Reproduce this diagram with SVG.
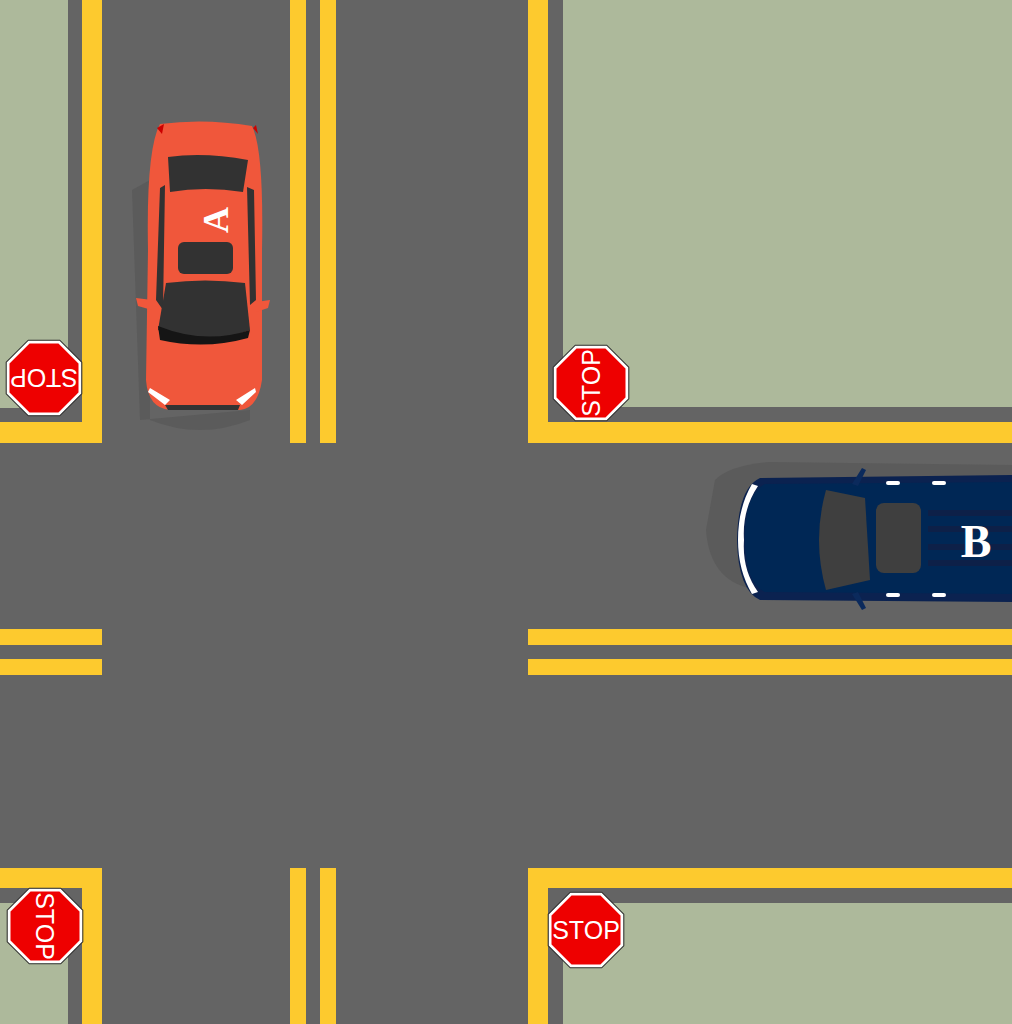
<svg xmlns="http://www.w3.org/2000/svg" width="1012" height="1024" viewBox="0 0 1012 1024">
<defs>
<style>
.y{fill:#fdca2e}.g{fill:#adb99b}.oct{fill:#ee0000;stroke:#fff;stroke-width:3}.st{font-family:"Liberation Sans",Arial,sans-serif;font-size:25px;fill:#fff;text-anchor:middle}
.lbl{font-family:"Liberation Serif","Times New Roman",serif;font-weight:bold;fill:#fff;text-anchor:middle}
</style>
<g id="stopsign"><polygon class="oct" points="-15,-36 15,-36 36,-15 36,15 15,36 -15,36 -36,15 -36,-15"/><polygon points="-15,-36 15,-36 36,-15 36,15 15,36 -15,36 -36,15 -36,-15" fill="none" stroke="#333" stroke-width="1" transform="scale(1.05)"/><text class="st" y="9">STOP</text></g>
</defs>
<rect width="1012" height="1024" fill="#646464"/>
<g id="corners">
<rect class="g" x="0" y="0" width="68" height="408"/>
<rect class="g" x="563" y="0" width="449" height="407"/>
<rect class="g" x="0" y="903" width="68" height="121"/>
<rect class="g" x="563" y="903" width="449" height="121"/>
<rect class="y" x="82" y="0" width="20" height="443"/><rect class="y" x="0" y="422" width="102" height="21"/>
<rect class="y" x="528" y="0" width="20" height="443"/><rect class="y" x="528" y="422" width="484" height="21"/>
<rect class="y" x="82" y="868" width="20" height="156"/><rect class="y" x="0" y="868" width="102" height="20"/>
<rect class="y" x="528" y="868" width="20" height="156"/><rect class="y" x="528" y="868" width="484" height="20"/>
<rect class="y" x="290" y="0" width="16" height="443"/><rect class="y" x="320" y="0" width="16" height="443"/>
<rect class="y" x="290" y="868" width="16" height="156"/><rect class="y" x="320" y="868" width="16" height="156"/>
<rect class="y" x="0" y="629" width="102" height="16"/><rect class="y" x="0" y="659" width="102" height="16"/>
<rect class="y" x="528" y="629" width="484" height="16"/><rect class="y" x="528" y="659" width="484" height="16"/>
</g>
<g id="stop1"><use href="#stopsign" transform="translate(44,378) rotate(180)"/></g>
<g id="stop2"><use href="#stopsign" transform="translate(591,383) rotate(-90)"/></g>
<g id="stop3"><use href="#stopsign" transform="translate(45,926) rotate(90)"/></g>
<g id="stop4"><use href="#stopsign" transform="translate(586,930)"/></g>
<g id="carA">
<path d="M132,190 L150,180 L150,420 Q200,440 250,420 L250,410 L140,420 Z" fill="#555" opacity="0.6"/>
<path d="M160,124 Q205,118 252,126 Q264,150 262,250 L262,380 Q258,408 240,410 L170,410 Q148,408 146,380 L148,250 Q146,150 160,124 Z" fill="#f0573b"/>
<path d="M157,128 L164,124 L162,134 Z M253,128 L258,134 L256,125 Z" fill="#cc0000"/>
<path d="M168,157 Q205,152 248,160 L243,192 Q205,186 170,192 Z" fill="#323232"/>
<path d="M160,188 L165,185 L163,310 L156,300 Z M247,187 L254,190 L256,300 L250,305 Z" fill="#323232"/>
<rect x="178" y="242" width="55" height="32" rx="6" fill="#323232"/>
<path d="M166,283 Q205,278 245,283 L250,330 Q205,348 158,330 Z" fill="#323232"/>
<path d="M158,326 Q205,345 250,330 L248,338 Q205,350 160,340 Z" fill="#151515"/>
<path d="M150,388 L170,400 L165,405 L148,392 Z M255,388 L236,400 L242,405 L256,392 Z" fill="#fff"/>
<path d="M136,298 L152,300 L152,310 L138,306 Z M270,300 L256,302 L256,312 L268,308 Z" fill="#f0573b"/>
<path d="M165,405 L240,405 L238,410 L168,410 Z" fill="#333"/>
<text class="lbl" font-size="36" transform="translate(216,220) rotate(-90)" dy="12">A</text>
</g>
<g id="carB">
<path d="M715,480 Q730,465 770,462 L1012,465 L1012,590 L760,590 Q710,585 706,530 Z" fill="#555" opacity="0.6"/>
<path d="M760,478 L1012,475 L1012,602 L760,600 Q738,590 737,540 Q738,488 760,478 Z" fill="#0b2250"/>
<path d="M765,484 L1012,482 L1012,594 L765,592 Q745,584 745,538 Q745,494 765,484 Z" fill="#002755"/>
<path d="M758,486 Q742,510 744,540 Q742,570 758,592 L752,594 Q738,570 738,540 Q738,508 752,484 Z" fill="#fff"/>
<path d="M826,490 L865,498 L870,580 L826,590 Q812,540 826,490 Z" fill="#3f3f3f"/>
<rect x="876" y="503" width="45" height="70" rx="8" fill="#3f3f3f"/>
<g fill="#0d2048"><rect x="928" y="510" width="84" height="6"/><rect x="928" y="526" width="84" height="6"/><rect x="928" y="544" width="84" height="6"/><rect x="928" y="560" width="84" height="6"/></g>
<path d="M852,484 L862,468 L866,470 L858,486 Z M852,594 L862,610 L866,608 L858,592 Z" fill="#0b2a5c"/>
<g fill="#fff"><rect x="886" y="481" width="14" height="4" rx="2"/><rect x="932" y="481" width="14" height="4" rx="2"/><rect x="886" y="593" width="14" height="4" rx="2"/><rect x="932" y="593" width="14" height="4" rx="2"/></g>
<text class="lbl" font-size="46" x="976" y="557">B</text>
</g>
</svg>
